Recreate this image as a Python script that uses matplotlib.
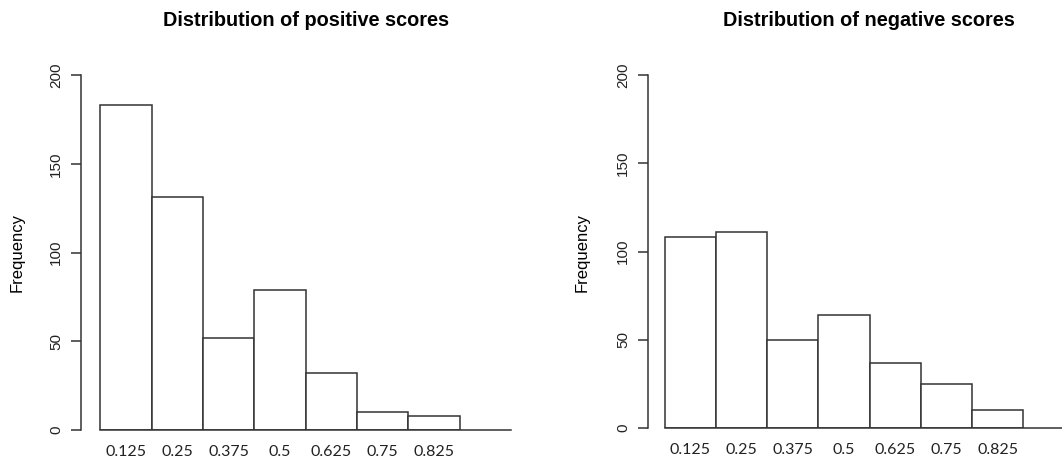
import numpy as np
import matplotlib.pyplot as plt

# histogram bin labels and counts
bins = ["0.125", "0.25", "0.375", "0.5", "0.625", "0.75", "0.825"]
positive = [183, 131, 52, 79, 32, 10, 8]
negative = [108, 111, 50, 64, 37, 25, 10]

W, H = 1062, 459
LINE = "#333333"
fig = plt.figure(figsize=(W / 100, H / 100), dpi=100)


def panel(left_px, base_px, top_px, bar_px, axis_gap, counts, title, title_x, ylab_x):
    n_units = 8
    right_px = left_px + axis_gap * bar_px + n_units * bar_px
    ax = fig.add_axes([left_px / W, (H - base_px) / H,
                       (right_px - left_px) / W, (base_px - top_px) / H])
    x = np.arange(len(counts))
    ax.bar(x, counts, width=1, align="edge", color="white",
           edgecolor=LINE, linewidth=1.1)
    ax.set_xlim(-axis_gap, n_units)
    ax.set_ylim(0, 200)
    ax.patch.set_alpha(0)
    for s in ["top", "right"]:
        ax.spines[s].set_visible(False)
    ax.spines["left"].set_bounds(0, 200)
    ax.spines["bottom"].set_bounds(0, n_units)
    ax.spines["bottom"].set_position(("data", 0))
    for s in ["left", "bottom"]:
        ax.spines[s].set_linewidth(1.1)
        ax.spines[s].set_color(LINE)
    ax.set_yticks([0, 50, 100, 150, 200])
    ax.set_yticklabels(["0", "50", "100", "150", "200"], rotation=90,
                       va="center", family="Liberation Sans", fontsize=11)
    ax.tick_params(axis="y", length=7, pad=6, width=1.1, color=LINE,
                   labelcolor="#222222")
    ax.set_xticks(x + 0.5)
    ax.set_xticklabels(bins, family="Lato", fontsize=11.5, color="#222222")
    ax.tick_params(axis="x", length=0, pad=11)
    fig.text(title_x / W, 1 - 21 / H, title, ha="center", va="center",
             fontsize=14.3, fontweight="bold", family="Liberation Sans")
    fig.text(ylab_x / W, 1 - 252 / H, "Frequency", rotation=90, ha="center",
             va="center", fontsize=12, family="Liberation Sans")
    return ax


panel(81, 430, 75, 51.3, 0.38, positive, "Distribution of positive scores", 306, 17)
panel(648, 428, 75, 51.2, 0.33, negative, "Distribution of negative scores", 869, 582)

fig.savefig("out.png", dpi=100)
